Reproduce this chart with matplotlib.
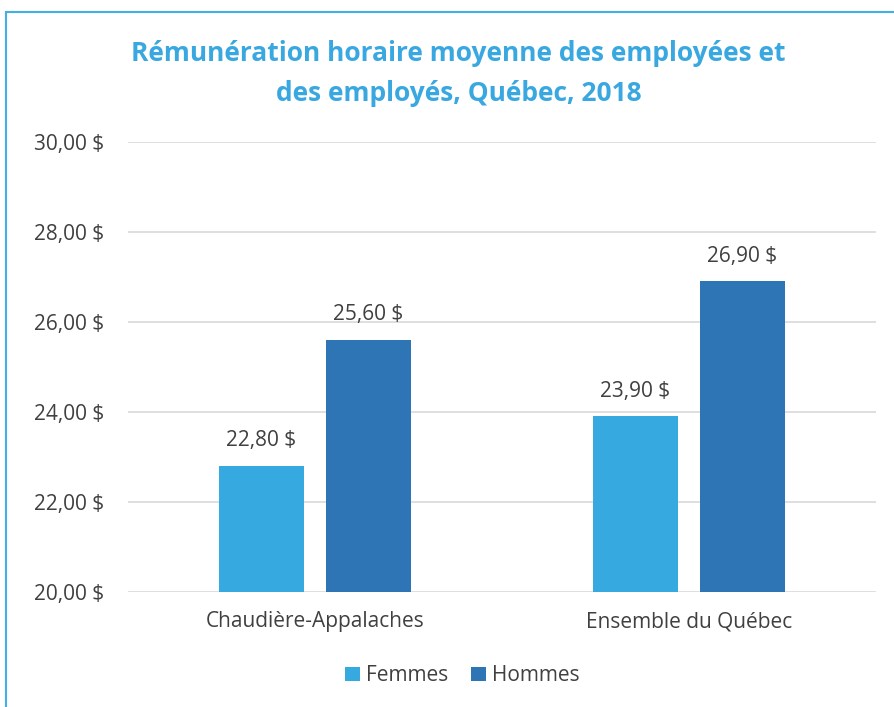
import matplotlib
matplotlib.use("Agg")
import matplotlib.pyplot as plt
import numpy as np
from matplotlib.patches import Rectangle

# données
regions = ["Chaudière-Appalaches", "Ensemble du Québec"]
femmes = [22.80, 23.90]
hommes = [25.60, 26.90]
yticks = [20, 22, 24, 26, 28, 30]

def fmt(v):
    return f"{v:.2f}".replace(".", ",") + " $"

plt.rcParams["font.family"] = ["Open Sans", "DejaVu Sans"]
txt = "#404040"

fig = plt.figure(figsize=(8.94, 7.07), dpi=100)
ax = fig.add_axes([0.1432, 0.1627, 0.8367, 0.6365])

x = np.arange(len(regions))
w = 0.225
off = 0.143
b1 = ax.bar(x - off, femmes, w, color="#37A9E1", label="Femmes", zorder=3)
b2 = ax.bar(x + off, hommes, w, color="#2E75B6", label="Hommes", zorder=3)

for bars, vals in ((b1, femmes), (b2, hommes)):
    for r, v in zip(bars, vals):
        ax.text(r.get_x() + r.get_width() / 2, v + 0.33, fmt(v),
                ha="center", va="bottom", fontsize=15, color=txt)

ax.set_xlim(-0.5, 1.5)
ax.set_ylim(20, 30)
ax.set_yticks(yticks)
ax.set_yticklabels([fmt(v) for v in yticks], fontsize=15, color=txt)
ax.set_xticks(x)
ax.set_xticklabels(regions, fontsize=15, color=txt)
ax.tick_params(length=0)
ax.tick_params(axis="y", pad=17)
ax.tick_params(axis="x", pad=14)
ax.grid(axis="y", color="#D9D9D9", linewidth=1.2, zorder=0)
for s in ax.spines.values():
    s.set_visible(False)

fig.text(0.513, 0.896, "Rémunération horaire moyenne des employées et\ndes employés, Québec, 2018",
         ha="center", va="center", fontsize=19, fontweight="bold", color="#3AA8E0",
         linespacing=1.6)

fig.legend(loc="center", bbox_to_anchor=(0.517, 0.044), ncol=2, frameon=False,
           fontsize=15, handlelength=0.7, handleheight=0.7, handletextpad=0.3,
           columnspacing=1.1, labelcolor=txt)

fig.patches.append(Rectangle((6 / 894, -0.1), 1.2, 1 - 12 / 707 + 0.1,
                             transform=fig.transFigure, fill=False,
                             edgecolor="#45AEE3", linewidth=1.5))

fig.savefig("out.png", dpi=100)
